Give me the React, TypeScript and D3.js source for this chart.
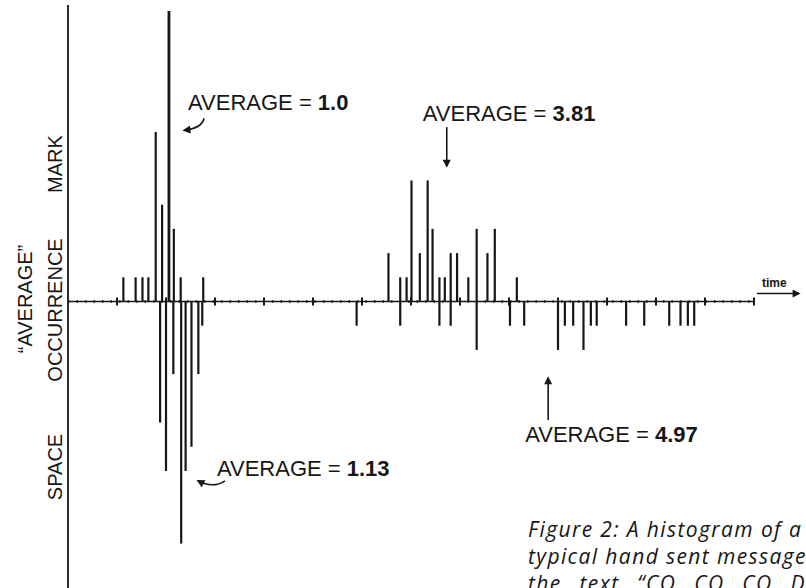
import React from 'react';
import * as d3 from 'd3';

// bar positions are in tick units along the time axis, heights in counts
const markTimes = [1.13, 1.38, 1.52, 1.64, 1.79, 1.92, 2.06, 2.16, 2.30, 2.76, 6.54, 6.78, 6.91, 7.01, 7.18, 7.34, 7.44, 7.58, 7.69, 7.81, 7.94, 8.17, 8.34, 8.56, 8.71, 9.16];
const markCounts = [1, 1, 1, 1, 7, 4, 12, 3, 1, 1, 2, 1, 1, 5, 2, 5, 3, 1, 1, 2, 2, 1, 3, 2, 3, 1];

const spaceTimes = [1.88, 2.00, 2.15, 2.31, 2.40, 2.52, 2.66, 2.74, 5.89, 6.78, 7.58, 7.81, 8.34, 9.02, 9.31, 10.0, 10.14, 10.31, 10.52, 10.67, 10.79, 11.39, 11.76, 12.27, 12.50, 12.65, 12.78];
const spaceCounts = [5, 7, 3, 10, 7, 6, 3, 1, 1, 1, 1, 1, 2, 1, 1, 2, 1, 1, 2, 1, 1, 1, 1, 1, 1, 1, 1];

const averageValues = ['1.0', '3.81', '4.97', '1.13'];
const averageTimes = [2.45, 7.24, 9.33, 3.04];
const averageLevels = [7.9, 7.45, -5.8, -7.2];

const axisLabels = ['MARK', 'OCCURRENCE', '\u201CAVERAGE\u201D', 'SPACE'];

const captionLines = [
  'Figure 2: A histogram of a',
  'typical hand sent message',
  'the text \u201CCQ CQ CQ DE',
];

const W = 806;
const H = 588;
const INK = '#161616';

const App: React.FC = () => {
  const x = d3.scaleLinear().domain([0, 14]).range([68, 754]);
  const y = d3.scaleLinear().domain([-12, 12]).range([592, 11]);
  const y0 = y(0);

  const marks = markTimes.map((t, i) => ({ t, c: markCounts[i] }));
  const spaces = spaceTimes.map((t, i) => ({ t, c: spaceCounts[i] }));
  const ticks = x.ticks(14).filter(t => t > 0);

  const labelFont = '"Liberation Sans", Arial, sans-serif';

  // arrow shapes relative to each label's anchor
  const arrowPaths = [
    'M16,8 Q14,18 -4,20',
    'M24,6 L24,45',
    'M23,-22 L23,-64',
    'M8,5 Q-4,13 -19,5',
  ];

  return (
    <svg width={W} height={H} style={{ position: 'absolute', left: 0, top: 0, background: '#fff' }}>
      <defs>
        <marker id="head" viewBox="0 0 10 10" refX="8" refY="5" markerWidth="9" markerHeight="8"
          markerUnits="userSpaceOnUse" orient="auto">
          <path d="M0,0 L10,5 L0,10 z" fill={INK} />
        </marker>
      </defs>

      {/* vertical axis */}
      <line x1={x(0)} x2={x(0)} y1={y(12.25)} y2={y(-12)} stroke={INK} strokeWidth={1.8} />

      {/* time baseline with small ticks */}
      <line x1={x(0)} x2={x(14)} y1={y0} y2={y0} stroke={INK} strokeWidth={1.6} />
      <line x1={x(0)} x2={x(14)} y1={y0} y2={y0} stroke={INK} strokeWidth={2.6} strokeDasharray="1.5 7" />
      {ticks.map(t => (
        <line key={t} x1={x(t)} x2={x(t)} y1={y0 - 4} y2={y0 + 4} stroke={INK} strokeWidth={2} />
      ))}

      {/* mark bars */}
      {marks.map((d, i) => (
        <line key={'m' + i} x1={x(d.t)} x2={x(d.t)} y1={y0} y2={y(d.c)}
          stroke={INK} strokeWidth={d.c > 10 ? 2.8 : 2.2} />
      ))}
      {/* space bars */}
      {spaces.map((d, i) => (
        <line key={'s' + i} x1={x(d.t)} x2={x(d.t)} y1={y0} y2={y(-d.c)}
          stroke={INK} strokeWidth={2.2} />
      ))}

      {/* time arrow */}
      <text x={x(14) + 8} y={y0 - 15} fontFamily={labelFont} fontWeight="bold" fontSize={12} fill={INK}>time</text>
      <line x1={x(14) + 3} x2={x(14) + 45} y1={y0 - 8} y2={y0 - 8} stroke={INK} strokeWidth={1.6} markerEnd="url(#head)" />

      {/* axis labels */}
      <g fontFamily={labelFont} fontSize={20} fill={INK} textAnchor="middle">
        <text transform={`translate(62,164) rotate(-90)`}>{axisLabels[0]}</text>
        <text transform={`translate(62,310) rotate(-90)`}>{axisLabels[1]}</text>
        <text transform={`translate(32,299) rotate(-90)`}>{axisLabels[2]}</text>
        <text transform={`translate(62,467) rotate(-90)`}>{axisLabels[3]}</text>
      </g>

      {/* averages */}
      {averageValues.map((v, i) => {
        const ax = x(averageTimes[i]);
        const ay = y(averageLevels[i]);
        return (
          <g key={v} transform={`translate(${ax},${ay})`}>
            <text fontFamily={labelFont} fontSize={22} fill={INK}>
              AVERAGE = <tspan fontWeight="bold">{v}</tspan>
            </text>
            <path d={arrowPaths[i]} fill="none" stroke={INK} strokeWidth={1.6} markerEnd="url(#head)" />
          </g>
        );
      })}

      {/* caption, cut by the page edge as in the source */}
      <g fontFamily='"Open Sans", sans-serif' fontStyle="italic" fontSize={21} letterSpacing={1.4} fill={INK}>
        {captionLines.map((l, i) => (
          <text key={i} x={528} y={537 + i * 27} wordSpacing={i === 2 ? 11 : 0}>{l}</text>
        ))}
      </g>
    </svg>
  );
};

export default App;
